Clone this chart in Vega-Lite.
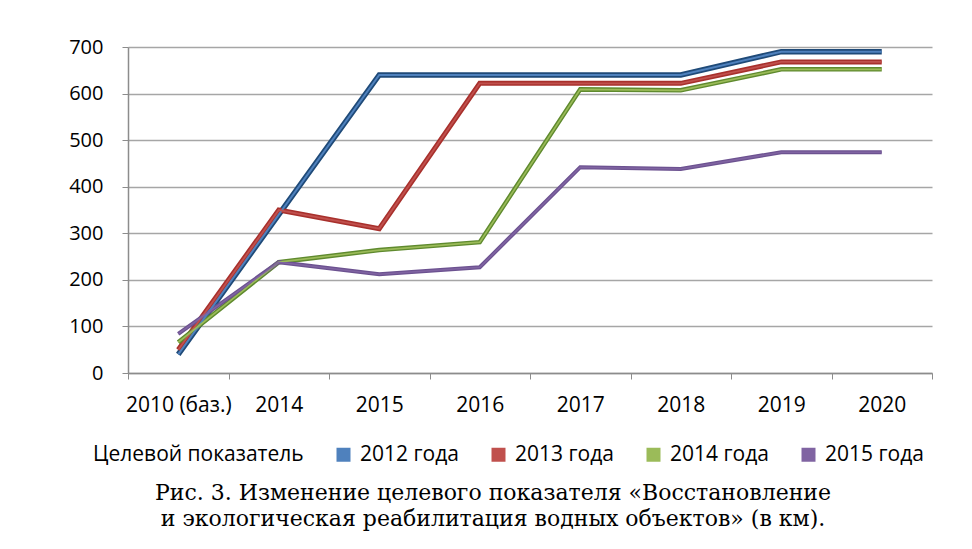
{
  "$schema": "https://vega.github.io/schema/vega-lite/v6.json",
  "width": 804,
  "height": 326,
  "autosize": {"type": "none"},
  "padding": {"left": 128, "top": 47, "right": 40, "bottom": 176},
  "background": "white",
  "config": {"view": {"stroke": null}, "font": "Open Sans"},
  "title": {
    "text": "Рис. 3. Изменение целевого показателя «Восстановление",
    "subtitle": "и экологическая реабилитация водных объектов» (в км).",
    "orient": "bottom",
    "anchor": "middle",
    "dx": -37,
    "font": "DejaVu Serif",
    "fontSize": 22,
    "fontWeight": "normal",
    "subtitleFont": "DejaVu Serif",
    "subtitleFontSize": 22,
    "color": "#000000",
    "subtitleColor": "#000000",
    "offset": 18,
    "subtitlePadding": 4
  },
  "data": {
    "values": [
      {"year": "2010 (баз.)", "series": "2012 года", "value": 40},
      {"year": "2014", "series": "2012 года", "value": 340},
      {"year": "2015", "series": "2012 года", "value": 640},
      {"year": "2016", "series": "2012 года", "value": 640},
      {"year": "2017", "series": "2012 года", "value": 640},
      {"year": "2018", "series": "2012 года", "value": 640},
      {"year": "2019", "series": "2012 года", "value": 690},
      {"year": "2020", "series": "2012 года", "value": 690},
      {"year": "2010 (баз.)", "series": "2013 года", "value": 50},
      {"year": "2014", "series": "2013 года", "value": 350},
      {"year": "2015", "series": "2013 года", "value": 310},
      {"year": "2016", "series": "2013 года", "value": 622},
      {"year": "2017", "series": "2013 года", "value": 622},
      {"year": "2018", "series": "2013 года", "value": 622},
      {"year": "2019", "series": "2013 года", "value": 668},
      {"year": "2020", "series": "2013 года", "value": 668},
      {"year": "2010 (баз.)", "series": "2014 года", "value": 66},
      {"year": "2014", "series": "2014 года", "value": 238},
      {"year": "2015", "series": "2014 года", "value": 264},
      {"year": "2016", "series": "2014 года", "value": 281},
      {"year": "2017", "series": "2014 года", "value": 609},
      {"year": "2018", "series": "2014 года", "value": 607},
      {"year": "2019", "series": "2014 года", "value": 652},
      {"year": "2020", "series": "2014 года", "value": 652},
      {"year": "2010 (баз.)", "series": "2015 года", "value": 84},
      {"year": "2014", "series": "2015 года", "value": 238},
      {"year": "2015", "series": "2015 года", "value": 212},
      {"year": "2016", "series": "2015 года", "value": 227},
      {"year": "2017", "series": "2015 года", "value": 442},
      {"year": "2018", "series": "2015 года", "value": 438},
      {"year": "2019", "series": "2015 года", "value": 474},
      {"year": "2020", "series": "2015 года", "value": 474}
    ]
  },
  "encoding": {
    "x": {
      "field": "year",
      "type": "ordinal",
      "sort": ["2010 (баз.)", "2014", "2015", "2016", "2017", "2018", "2019", "2020"],
      "bandPosition": 0.5,
      "scale": {"type": "band", "paddingInner": 0, "paddingOuter": 0},
      "axis": {
        "title": null,
        "labelAngle": 0,
        "labelFontSize": 21,
        "labelColor": "#000000",
        "labelPadding": 15,
        "tickBand": "extent",
        "tickSize": 6,
        "tickColor": "#8c8c8c",
        "domainColor": "#8c8c8c",
        "domainWidth": 1.5,
        "grid": false
      }
    },
    "y": {
      "field": "value",
      "type": "quantitative",
      "scale": {"domain": [0, 700], "nice": false},
      "axis": {
        "title": null,
        "values": [0, 100, 200, 300, 400, 500, 600, 700],
        "labelFontSize": 20,
        "labelColor": "#000000",
        "labelPadding": 19,
        "tickSize": 6,
        "tickColor": "#8c8c8c",
        "domainColor": "#8c8c8c",
        "domainWidth": 1.5,
        "grid": true,
        "gridColor": "#a6a6a6",
        "gridWidth": 1.5
      }
    }
  },
  "layer": [
    {
      "mark": {"type": "line", "strokeJoin": "miter"},
      "encoding": {
        "stroke": {
          "field": "series",
          "type": "nominal",
          "scale": {
            "domain": ["2012 года", "2013 года", "2014 года", "2015 года"],
            "range": ["#1f4a78", "#a8302c", "#5f8a2e", "#6c5290"]
          },
          "legend": null
        },
        "strokeWidth": {
          "field": "series",
          "type": "nominal",
          "scale": {
            "domain": ["2012 года", "2013 года", "2014 года", "2015 года"],
            "range": [5.5, 4, 2.3, 1.6]
          },
          "legend": null
        }
      }
    },
    {
      "mark": {"type": "line", "strokeJoin": "miter"},
      "encoding": {
        "color": {
          "field": "series",
          "type": "nominal",
          "scale": {
            "domain": ["Целевой показатель", "2012 года", "2013 года", "2014 года", "2015 года"],
            "range": ["#ffffff", "#4f81bd", "#c0504d", "#9bbb59", "#8064a2"]
          },
          "legend": {
            "title": null,
            "orient": "none",
            "legendX": -62,
            "legendY": 397,
            "direction": "horizontal",
            "symbolType": "square",
            "symbolSize": 196,
            "symbolStrokeWidth": 0,
            "labelFontSize": 21,
            "labelColor": "#000000",
            "labelLimit": 400,
            "columnPadding": 29,
            "labelOffset": 6,
            "encode": {
              "symbols": {
                "update": {
                  "fill": {"scale": "color", "field": "value"},
                  "stroke": {"value": "transparent"}
                }
              }
            }
          }
        },
        "strokeWidth": {
          "field": "series",
          "type": "nominal",
          "scale": {
            "domain": ["2012 года", "2013 года", "2014 года", "2015 года"],
            "range": [2, 1.5, 1.3, 0.8]
          },
          "legend": null
        }
      }
    }
  ],
  "resolve": {"scale": {"strokeWidth": "independent"}}
}
